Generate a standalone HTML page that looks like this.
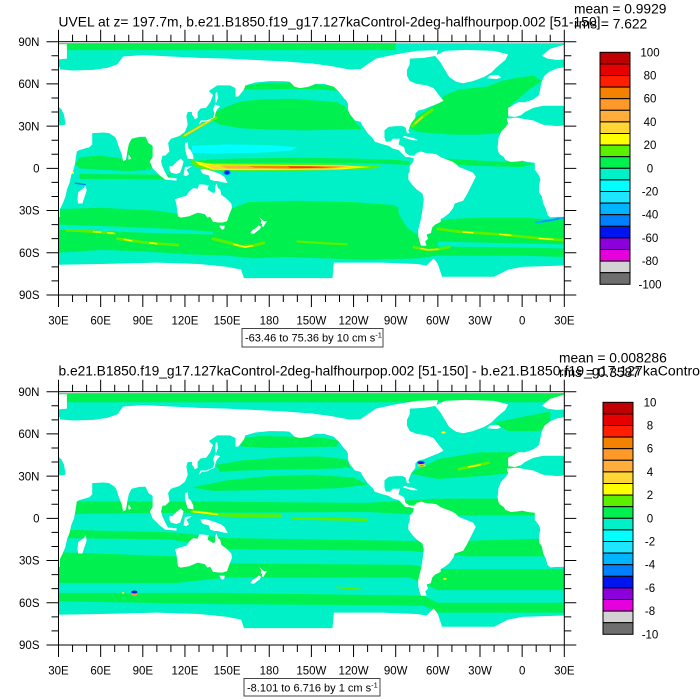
<!DOCTYPE html>
<html><head><meta charset="utf-8"><style>
html,body{margin:0;padding:0;background:#fff;}
svg{display:block;font-family:"Liberation Sans",Arial,Helvetica,sans-serif;}
</style></head><body>
<svg width="700" height="700" viewBox="0 0 700 700" xmlns="http://www.w3.org/2000/svg" xmlns:xlink="http://www.w3.org/1999/xlink">
<defs>
<g id="west">
<polygon points="391,72 385,71 380,69 376,66 374,62 373,57 372,52 368,49 362,47 357,47 352,44 350,43 350,37 355,36.5 360,38 391,38"/>
<polygon points="374,80 380,85 391,88.2 396,88.2 396,78 385,77 378,78"/>
<polygon points="349,35.5 352,35.5 354,36 391,36 391,-34.5 385,-34.5 380,-34.8 378,-33 377,-29 375,-25 374,-20 372,-17 372,-12 373,-8 372,-5 369,-1 369,2 369,4 364,4.5 360,5.5 357,5 352,4.5 348,6 347,8 344,10 343,12 342.5,15 343,19 343,21 345,26 348,29 350,32"/>
<polygon fill="#00F0C8" points="357,36 362,40 368,43 375,44.5 389,44.5 392,42 394,38 395,31 385,30 375,31 368,34 360,35.3"/>
</g>
<g id="land" fill="#fff">
<polygon points="29,70.5 40,69.5 55,70 65,71.5 72,74 76,79.5 90,80.5 110,79.5 130,78.5 150,78 170,77 190,76 210,74.5 225,72.5 237,70.2 240,69 240,62 215,61 200,61 190,62 180,62 170,61 163,59 162,56 158,51 156,51 156,57 152,59 143,59 137,55 140,52 138,47 135,43 131,42.5 129,40 129,36 127,34.8 126,37 125,38 125,40 122,40 121,37 122,31 120,26 116,23 110,21 108,18 109,12 106,9 104,9 103,5 104,1.3 106,-3 108,-6.5 114,-7 114,-8.7 106,-8 102,-5 97,0 95,5 97,8 97,16 94,18 92,22.5 88,22.5 82,21 80,17 79,12 78,6 76,5 75,10 73,15 71,21 70,22.5 66,25 62,25.5 54,25 54,17 52,15 45,13 43,12 42,5 41,0 39,-5 38,-10 36,-15 35,-20 33,-25 31,-29 29,-31"/>
<polygon points="130,31 131,34 135,34 140,36 141,39 140,42 141.5,45.5 145,44 143,42 142,40 141,36 138,34.5 136,33.5 132,33"/>
<polygon points="142,46 143.5,50 143,54 142,54 141.5,50"/>
<polygon points="120,18 122,18.5 122.5,14 124,13 126,9 126,6.5 122,7 121,10 120,14"/>
<polygon points="109,1.5 111,1.5 114,4.5 117,7 119,5 118,1 116.5,-3 114,-4 110,-3 109,-1"/>
<polygon points="119,-5 120,1 125,1.5 121,-1 123,-4 121,-5.5"/>
<polygon points="131,-1 134,-0.5 138,-1.5 141,-2.5 145,-4 148,-6 150.5,-10.5 147,-10 143,-9 141,-9 138,-8 137,-5 133,-4 132,-3"/>
<polygon points="80,6 81.8,7 80,9.8 79.7,8"/>
<polygon points="44,-25 47,-25 50,-16 49.5,-12 48,-14 44,-17 43.5,-22"/>
<polygon points="113,-22 114,-26 115,-34 117,-35 123,-34 129,-31.5 134,-32.5 136,-35 138,-34.5 140,-38 144,-38.5 147,-38.5 150,-37.5 151.5,-33 153.5,-28 153,-25 149,-21 146,-19 145,-15 143.5,-14 142.5,-10.7 141.5,-13 141.5,-17 140,-17.5 136,-15 137,-12 133,-11.5 130,-11.5 129,-14.5 126,-14 123,-16.5 121,-19.5 117,-20.5"/>
<polygon points="144.5,-40.7 148.3,-40.8 148,-43 146.5,-43.6 145,-42"/>
<polygon points="172.7,-34.5 174.5,-36 176,-37.5 178.5,-37.7 177,-39.5 176,-41.5 174.6,-41.3 175,-39.5 173.8,-39 174.5,-37"/>
<polygon points="172.6,-40.5 174.3,-41.7 173,-43.5 171,-45 169,-46.6 166.5,-46 168,-44 171,-42"/>
<polygon points="185,62 185,75 210,74.5 225,72.5 237,70.2 245,70.5 250,74 256,78 270,81 285,83.5 300,84 299,80 290,78.5 280,78 280,74 278,70 278,66 280,62 285,60 292,59 297,57 300,53 304,48 300,46 295,44 290,42 286,41 284,39 284,36 281,32 279,27 280,25 278,25 277,29 275,30 270,30 265,29.5 262,27 262,22 263,19 266,19 268,21 273,21 272,17 276,15 277,11 280,9 283,9 285,11 288,12 291,11 296,10.5 299,10 302,8 307,6 310,5 313,3 315,1 320,-1 325,-3 327,-6 325,-10 321,-18 318,-23 312,-25 311,-28 308,-32 304,-35 302,-36 302,-38 298,-40 296,-42 295,-46 292,-47 293,-50 291,-52 292,-55 288,-55 287,-52 286,-48 286,-44 287,-40 288,-36 289,-30 290,-22 289,-18 285,-15 282,-12 279,-8 279,-4 280,-2 280,2 282,4 283,7 280,8 277,8 275,10 272,13 268,14 265,16 261,17 255,19 254,21 250,25 248,28 246,31 245,33 241,34 237,39 236,42 236,46 235,48 233,50 230,54 226,58 219,60 213,60 208,58 202,57 198,58 196,60 194,62"/>
<polygon points="275,22 282,20 286,20 283,21.5 276,23"/>
<polygon points="298,80 305,83.5 320,84.2 340,83.5 350,81 348,77 342,72 338,68 333,65 325,62 318,60.5 313,61.5 308,65 305,70 302,75"/>
<polygon points="335,64 342,63.5 345,64.5 343,66.3 337,66"/>
<polygon points="29,-68.5 60,-68 100,-67 130,-68 150,-70 160,-72 162,-78 200,-78 225,-78 226,-67 260,-67 285,-68 292,-69 297,-64 300,-68 303,-77 340,-77 350,-72 360,-70 391,-69 391,-91 29,-91"/>
<use xlink:href="#west"/>
<use xlink:href="#west" transform="translate(-360 0)"/>
</g>
<g id="cbar" stroke="#000" stroke-width="1">
<rect x="600" y="52.3" width="30" height="11.6" fill="#C00000"/>
<rect x="600" y="63.9" width="30" height="11.6" fill="#E60000"/>
<rect x="600" y="75.5" width="30" height="11.6" fill="#FF1E00"/>
<rect x="600" y="87.1" width="30" height="11.6" fill="#F28200"/>
<rect x="600" y="98.7" width="30" height="11.6" fill="#FF9A2A"/>
<rect x="600" y="110.3" width="30" height="11.6" fill="#FFAD3B"/>
<rect x="600" y="121.9" width="30" height="11.6" fill="#FFD633"/>
<rect x="600" y="133.5" width="30" height="11.6" fill="#FFFF00"/>
<rect x="600" y="145.1" width="30" height="11.6" fill="#5AF000"/>
<rect x="600" y="156.7" width="30" height="11.6" fill="#00F050"/>
<rect x="600" y="168.3" width="30" height="11.6" fill="#00F0C8"/>
<rect x="600" y="179.9" width="30" height="11.6" fill="#00FFFF"/>
<rect x="600" y="191.5" width="30" height="11.6" fill="#1EE6FF"/>
<rect x="600" y="203.1" width="30" height="11.6" fill="#00B4FF"/>
<rect x="600" y="214.7" width="30" height="11.6" fill="#0080FF"/>
<rect x="600" y="226.3" width="30" height="11.6" fill="#0014F0"/>
<rect x="600" y="237.9" width="30" height="11.6" fill="#8C00DC"/>
<rect x="600" y="249.5" width="30" height="11.6" fill="#E600DC"/>
<rect x="600" y="261.1" width="30" height="11.6" fill="#D2D2D2"/>
<rect x="600" y="272.7" width="30" height="11.6" fill="#6E6E6E"/>
</g>
<g id="axes">
<rect x="58.5" y="41.7" width="505.8" height="253.3" fill="none" stroke="#000" stroke-width="1"/>
<path fill="none" stroke="#000" stroke-width="1" d="M58.5 295v12M72.55 295v7M86.6 295v7M100.65 295v12M114.7 295v7M128.75 295v7M142.8 295v12M156.85 295v7M170.9 295v7M184.95 295v12M199 295v7M213.05 295v7M227.1 295v12M241.15 295v7M255.2 295v7M269.25 295v12M283.3 295v7M297.35 295v7M311.4 295v12M325.45 295v7M339.5 295v7M353.55 295v12M367.6 295v7M381.65 295v7M395.7 295v12M409.75 295v7M423.8 295v7M437.85 295v12M451.9 295v7M465.95 295v7M480 295v12M494.05 295v7M508.1 295v7M522.15 295v12M536.2 295v7M550.25 295v7M564.3 295v12
M58.5 41.7v-12M72.55 41.7v-7M86.6 41.7v-7M100.65 41.7v-12M114.7 41.7v-7M128.75 41.7v-7M142.8 41.7v-12M156.85 41.7v-7M170.9 41.7v-7M184.95 41.7v-12M199 41.7v-7M213.05 41.7v-7M227.1 41.7v-12M241.15 41.7v-7M255.2 41.7v-7M269.25 41.7v-12M283.3 41.7v-7M297.35 41.7v-7M311.4 41.7v-12M325.45 41.7v-7M339.5 41.7v-7M353.55 41.7v-12M367.6 41.7v-7M381.65 41.7v-7M395.7 41.7v-12M409.75 41.7v-7M423.8 41.7v-7M437.85 41.7v-12M451.9 41.7v-7M465.95 41.7v-7M480 41.7v-12M494.05 41.7v-7M508.1 41.7v-7M522.15 41.7v-12M536.2 41.7v-7M550.25 41.7v-7M564.3 41.7v-12
M58.5 41.7h-12M58.5 55.77h-7M58.5 69.84h-7M58.5 83.91h-12M58.5 97.98h-7M58.5 112.05h-7M58.5 126.12h-12M58.5 140.19h-7M58.5 154.26h-7M58.5 168.33h-12M58.5 182.4h-7M58.5 196.47h-7M58.5 210.54h-12M58.5 224.61h-7M58.5 238.68h-7M58.5 252.75h-12M58.5 266.82h-7M58.5 280.89h-7M58.5 294.96h-12
M564.3 41.7h12M564.3 55.77h7M564.3 69.84h7M564.3 83.91h12M564.3 97.98h7M564.3 112.05h7M564.3 126.12h12M564.3 140.19h7M564.3 154.26h7M564.3 168.33h12M564.3 182.4h7M564.3 196.47h7M564.3 210.54h12M564.3 224.61h7M564.3 238.68h7M564.3 252.75h12M564.3 266.82h7M564.3 280.89h7M564.3 294.96h12"/>
<g font-size="11.5" fill="#000" text-anchor="middle">
<text x="58.5" y="324.3">30E</text><text x="100.65" y="324.3">60E</text><text x="142.8" y="324.3">90E</text><text x="184.95" y="324.3">120E</text><text x="227.1" y="324.3">150E</text><text x="269.25" y="324.3">180</text><text x="311.4" y="324.3">150W</text><text x="353.55" y="324.3">120W</text><text x="395.7" y="324.3">90W</text><text x="437.85" y="324.3">60W</text><text x="480" y="324.3">30W</text><text x="522.15" y="324.3">0</text><text x="564.3" y="324.3">30E</text>
</g>
<g font-size="11.5" fill="#000" text-anchor="end">
<text x="39.5" y="45.9">90N</text><text x="39.5" y="88.1">60N</text><text x="39.5" y="130.3">30N</text><text x="39.5" y="172.5">0</text><text x="39.5" y="214.7">30S</text><text x="39.5" y="256.9">60S</text><text x="39.5" y="299.1">90S</text>
</g>
</g>
</defs>
<rect width="700" height="700" fill="#fff"/>

<!-- PANEL 1 MAP -->
<svg x="58.5" y="41.7" width="505.8" height="253.3" viewBox="30 -90 360 180" preserveAspectRatio="none">
<g transform="scale(1,-1)">
<rect x="29" y="-80" width="362" height="168.9" fill="#00F0C8"/>
<g fill="#00F050">
<rect x="29" y="84" width="241" height="4.9"/>
<polygon points="160,58 175,60.5 195,61 208,60 222,59 230,57 232,55 215,56 195,56.5 175,56 160,56"/>
<polygon points="138,35 142,40 150,44 160,47.5 175,49 195,49.5 215,48 228,47 234,44 238,38 242,32 246,28 230,27.5 205,27 180,27.5 160,28.5 145,31"/>
<polygon points="278,30 282,35 290,40 298,45 305,52 315,56 325,57 335,58 345,62 355,64 368,66 374,62 365,56 358,50 352,45 350,36 352,30 345,25 330,24 310,24 295,25 285,26"/>
<polygon points="125,5 140,6.5 160,7 200,7.5 240,7 270,6 280,5 280,2.5 250,3.5 200,4 160,4 135,3"/>
<polygon points="45,8 60,9 75,7 95,6 100,3 95,-1 80,-2 60,-1 45,0 42,3"/>
<polygon points="305,7 320,6 340,5 360,4.5 368,3 360,1 340,1.5 320,2 310,3"/>
<polygon points="79,22 97,22 97,3 79,3"/>
<polygon points="45,-4 110,-4.5 110,-8 45,-7.5"/>
<polygon points="29,-29 60,-28 100,-30 120,-33 150,-30 165,-24 200,-23 240,-24 268,-26 282,-32 288,-40 295,-38 310,-36 330,-35 360,-35 375,-36 391,-36 391,-63 360,-62 330,-62 300,-62 285,-64 250,-65 220,-64 190,-63 170,-64 150,-62 120,-61 90,-59 60,-58 29,-60"/>
</g>
<g fill="#00F0C8">
<polygon points="29,-40 60,-41 110,-43 140,-45 140,-47 100,-46 60,-44.5 29,-43.5"/>
<polygon points="272,-24 283,-20 289,-22 289,-42 285,-47 278,-42 272,-32"/>
<polygon points="300,-52 340,-53 391,-54 391,-57 340,-56 300,-55.5"/>
</g>
<polygon fill="#00FFFF" points="125,16 150,17 180,16.5 200,15 195,12.5 170,11 140,10.5 125,11"/>
<polygon fill="#5AF000" points="124,6 135,4 170,3.2 220,3 255,2 262,0.5 240,-1 200,-1.8 160,-1.8 135,-1.5 126,2"/>
<polygon fill="#FFFF00" points="127,5 140,2.8 180,2.6 230,2.2 252,1 230,-0.8 180,-1.2 140,-1 130,2.5"/>
<polygon fill="#FFD633" points="135,2.4 180,2.2 230,1.8 245,0.8 220,-0.5 180,-0.8 140,-0.5"/>
<polygon fill="#FFAD3B" points="145,2 190,1.9 235,1.4 225,0 190,-0.4 150,0"/>
<polygon fill="#F28200" points="165,1.6 200,1.6 232,1.1 220,0.2 195,0 170,0.4"/>
<polygon fill="#FF1E00" points="193,1.3 210,1.3 222,0.9 210,0.4 195,0.4"/>
<ellipse cx="150" cy="-3" rx="2.5" ry="1.8" fill="#0080FF"/>
<ellipse cx="150" cy="-3" rx="1.4" ry="1.1" fill="#0014F0"/>
<g fill="none" stroke-linecap="round" stroke-linejoin="round">
<polyline stroke="#5AF000" stroke-width="2.2" points="119,23 126,27 132,30.5 138,34 142,36"/>
<polyline stroke="#FFD633" stroke-width="1.2" points="120,23.5 126,27 132,30.5 138,34"/>
<polyline stroke="#5AF000" stroke-width="2.2" points="282,30 286,34 291,38 296,41.5"/>
<polyline stroke="#FFD633" stroke-width="1" points="284,32 289,36.5"/>
<polyline stroke="#5AF000" stroke-width="2" points="36,-44 48,-44.5 58,-45.2 70,-46.3"/>
<polyline stroke="#FFFF00" stroke-width="1" points="55,-45 60,-45.3"/>
<polyline stroke="#FFFF00" stroke-width="1" points="65,-45.8 69,-46.1"/>
<polyline stroke="#5AF000" stroke-width="2" points="72,-50 80,-51 90,-52.5 100,-53.5 115,-54.5"/>
<polyline stroke="#FFFF00" stroke-width="1.1" points="77,-50.5 82,-51.5"/>
<polyline stroke="#FFFF00" stroke-width="1" points="95,-53 100,-53.5"/>
<polyline stroke="#5AF000" stroke-width="2.2" points="140,-50 150,-52.5 160,-55.5 168,-55 176,-53"/>
<polyline stroke="#FFFF00" stroke-width="1.1" points="155,-54 163,-56 168,-55"/>
<polyline stroke="#5AF000" stroke-width="1.6" points="200,-52 215,-53 235,-54"/>
<polyline stroke="#5AF000" stroke-width="2" points="283,-56 292,-58 300,-57.5 308,-56"/>
<polyline stroke="#FFD633" stroke-width="1" points="288,-57 294,-58 300,-57.5"/>
<polyline stroke="#5AF000" stroke-width="2" points="300,-43 315,-45 330,-46 345,-47 360,-48.5 375,-50 391,-51"/>
<polyline stroke="#FFFF00" stroke-width="1" points="318,-45.3 325,-45.8"/>
<polyline stroke="#FFFF00" stroke-width="1" points="344,-46.9 352,-47.6"/>
<polyline stroke="#FFFF00" stroke-width="1" points="372,-49.8 382,-50.5"/>
<polyline stroke="#00B4FF" stroke-width="1.6" points="370,-38.4 380,-37 389,-35.2"/>
<polyline stroke="#0080FF" stroke-width="0.7" points="374,-38 386,-35.8"/>
<polyline stroke="#0080FF" stroke-width="1" points="42,-10.5 49,-11.5"/>
</g>
<ellipse cx="40" cy="-3" rx="1" ry="1" fill="#FFFF00"/>
<use xlink:href="#land"/>
</g>
</svg>

<!-- PANEL 2 MAP -->
<svg x="58.5" y="391.7" width="505.8" height="253.3" viewBox="30 -90 360 180" preserveAspectRatio="none">
<g transform="scale(1,-1)">
<rect x="29" y="-80" width="362" height="168.9" fill="#00F0C8"/>
<g fill="#00F050">
<rect x="29" y="82.5" width="362" height="6.4"/>
<polygon points="340,68 360,72 380,76 380,66 372,62 350,62"/>
<polygon points="158,57 175,58.5 200,58 220,57 230,55 228,51 205,50.5 180,50 160,51"/>
<polygon points="142,38 160,41 190,43.5 215,44 235,42 238,36 215,35 185,34.5 160,34 145,33"/>
<polygon points="125,22 150,27 180,30 210,31 240,29 250,24 230,21.5 200,20.5 170,20 140,19.5"/>
<polygon points="29,12 120,12 250,11 300,14 391,14 391,2 300,2 250,4.5 120,4 29,3"/>
<polygon points="280,32 300,42 330,47 360,47 391,46 391,36 360,33 330,30 300,28"/>
<polygon points="29,-8 110,-10 150,-14 280,-16 320,-16 391,-14 391,-27 320,-27 280,-23 150,-22 110,-15 29,-14"/>
<polygon points="29,-24 113,-27 150,-32 280,-33 300,-36 391,-36 391,-51 300,-51 280,-42 150,-42 113,-46 29,-46"/>
<polygon points="29,-53 150,-53 290,-55 300,-60 391,-60 391,-67 300,-67 290,-62 150,-61 29,-59"/>
</g>
<g fill="none" stroke-linecap="round" stroke-linejoin="round">
<polyline stroke="#5AF000" stroke-width="2.2" points="125,5 133,4 145,2.5 160,2 188,1.8"/>
<polyline stroke="#FFFF00" stroke-width="1.2" points="126,4.8 133,4 143,2.8"/>
<polyline stroke="#5AF000" stroke-width="1.8" points="197,0 220,-0.5 249,-1"/>
<polyline stroke="#5AF000" stroke-width="2" points="315,35 325,37 336,39.5"/>
<polyline stroke="#FFFF00" stroke-width="1" points="322,36.5 330,38"/>
<polyline stroke="#5AF000" stroke-width="1.2" points="228,-49 245,-50.5"/>
</g>
<ellipse cx="288" cy="39.6" rx="2.6" ry="1.1" fill="#8C00DC"/>
<ellipse cx="288" cy="39.6" rx="1.6" ry="0.8" fill="#0014F0"/>
<ellipse cx="288.5" cy="37.6" rx="3" ry="1" fill="#FFD633"/>
<ellipse cx="288.5" cy="37.6" rx="1.5" ry="0.6" fill="#F28200"/>
<ellipse cx="304" cy="61" rx="1.5" ry="0.8" fill="#FFFF00"/>
<ellipse cx="84" cy="-52.3" rx="2.2" ry="1" fill="#0014F0"/>
<ellipse cx="84" cy="-54.3" rx="2.2" ry="0.8" fill="#FF9A2A"/>
<ellipse cx="76" cy="-53" rx="1" ry="0.6" fill="#FFFF00"/>
<ellipse cx="305" cy="-43" rx="1.2" ry="0.7" fill="#FFFF00"/>
<use xlink:href="#land"/>
</g>
</svg>

<use xlink:href="#axes"/>
<use xlink:href="#axes" transform="translate(0 350)"/>

<g font-size="13.8" fill="#000">
<text x="58.5" y="26.7" textLength="542" lengthAdjust="spacing">UVEL at z= 197.7m, b.e21.B1850.f19_g17.127kaControl-2deg-halfhourpop.002 [51-150]</text>
<text x="574" y="13.3">mean = 0.9929</text>
<text x="574" y="28.3">rms = 7.622</text>
<text x="58.5" y="375.7" textLength="410" lengthAdjust="spacing">b.e21.B1850.f19_g17.127kaControl-2deg-halfhourpop.002 [51-150]</text>
<text x="472" y="375.7" font-size="14.1">- b.e21.B1850.f19_g17.127kaControl-2deg-halfhourpop.002 [51-150]</text>
<text x="559" y="362.7">mean = 0.008286</text>
<text x="559" y="377">rms = 0.3587</text>
</g>

<use xlink:href="#cbar"/>
<use xlink:href="#cbar" transform="translate(3 350)"/>
<g font-size="11.5" fill="#000" text-anchor="middle">
<text x="650" y="56.3">100</text><text x="650" y="79.5">80</text><text x="650" y="102.7">60</text><text x="650" y="125.9">40</text><text x="650" y="149.1">20</text><text x="650" y="172.3">0</text><text x="650" y="195.5">-20</text><text x="650" y="218.7">-40</text><text x="650" y="241.9">-60</text><text x="650" y="265.1">-80</text><text x="650" y="288.3">-100</text>
<text x="650" y="406.3">10</text><text x="650" y="429.5">8</text><text x="650" y="452.7">6</text><text x="650" y="475.9">4</text><text x="650" y="499.1">2</text><text x="650" y="522.3">0</text><text x="650" y="545.5">-2</text><text x="650" y="568.7">-4</text><text x="650" y="591.9">-6</text><text x="650" y="615.1">-8</text><text x="650" y="638.3">-10</text>
</g>

<rect x="242" y="328.5" width="141" height="18.5" fill="#fff" stroke="#444" stroke-width="1"/>
<text x="245" y="341.5" font-size="11" fill="#000">-63.46 to 75.36 by 10 cm s<tspan dy="-4" font-size="7.5">-1</tspan></text>
<rect x="244" y="678.5" width="136" height="17.5" fill="#fff" stroke="#444" stroke-width="1"/>
<text x="247" y="691.5" font-size="11" fill="#000">-8.101 to 6.716 by 1 cm s<tspan dy="-4" font-size="7.5">-1</tspan></text>
</svg>
</body></html>
